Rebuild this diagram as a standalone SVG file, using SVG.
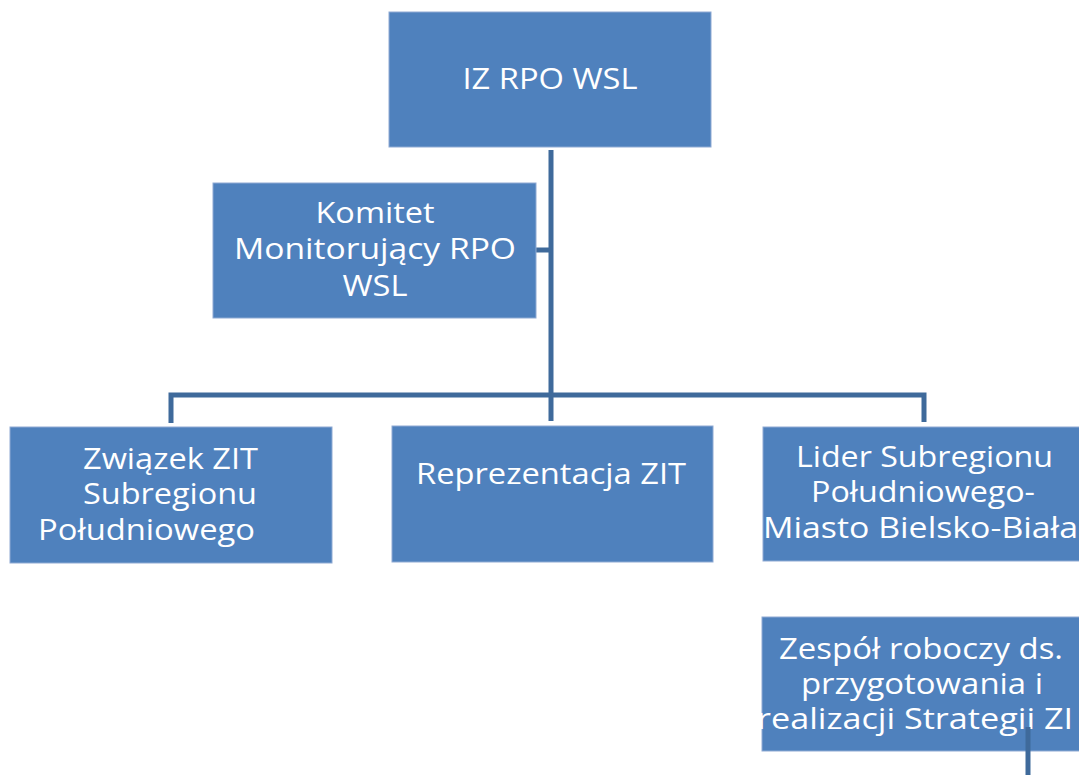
<svg xmlns="http://www.w3.org/2000/svg" width="1079" height="775" viewBox="0 0 1079 775">
<style>
.box{fill:#4F81BD;stroke:#8FAAD3;stroke-width:1}
.t{font-family:"Open Sans",Lato,"DejaVu Sans",sans-serif;font-size:29px;fill:#FFFFFF}
.c{text-anchor:middle}
.ln{fill:none;stroke:#3F6A9B;stroke-width:5;stroke-linecap:butt;stroke-linejoin:miter}
</style>
<rect x="0" y="0" width="1079" height="775" fill="#FFFFFF"/>
<g id="connectors">
<path class="ln" d="M551,150 V421"/>
<path class="ln" d="M536,250 H551"/>
<path class="ln" d="M171,423 V395 H924 V422"/>
</g>
<g id="iz">
<rect class="box" x="389" y="12" width="322" height="135"/>
<text class="t c" x="550" y="89" textLength="175" lengthAdjust="spacingAndGlyphs">IZ RPO WSL</text>
</g>
<g id="komitet">
<rect class="box" x="213" y="183" width="323" height="135"/>
<text class="t c" x="375" y="223" textLength="119" lengthAdjust="spacingAndGlyphs">Komitet</text>
<text class="t c" x="375" y="259" textLength="282" lengthAdjust="spacingAndGlyphs">Monitorujący RPO</text>
<text class="t c" x="375" y="296" textLength="65" lengthAdjust="spacingAndGlyphs">WSL</text>
</g>
<g id="zwiazek">
<rect class="box" x="10" y="427" width="322" height="136"/>
<text class="t" x="83" y="469" textLength="175" lengthAdjust="spacingAndGlyphs">Związek ZIT</text>
<text class="t" x="83" y="504" textLength="174" lengthAdjust="spacingAndGlyphs">Subregionu</text>
<text class="t" x="38" y="540" textLength="217" lengthAdjust="spacingAndGlyphs">Południowego</text>
</g>
<g id="reprezentacja">
<rect class="box" x="392" y="426" width="321" height="136"/>
<text class="t" x="416" y="484" textLength="270" lengthAdjust="spacingAndGlyphs">Reprezentacja ZIT</text>
</g>
<g id="lider">
<rect class="box" x="763" y="427" width="320" height="134"/>
<text class="t" x="796" y="467" textLength="257" lengthAdjust="spacingAndGlyphs">Lider Subregionu</text>
<text class="t" x="811" y="502" textLength="224" lengthAdjust="spacingAndGlyphs">Południowego-</text>
<text class="t" x="763" y="538" textLength="315" lengthAdjust="spacingAndGlyphs">Miasto Bielsko-Biała</text>
</g>
<g id="zespol">
<rect class="box" x="762" y="617" width="321" height="134"/>
<text class="t" x="779" y="659" textLength="284" lengthAdjust="spacingAndGlyphs">Zespół roboczy ds.</text>
<text class="t" x="801" y="694" textLength="242" lengthAdjust="spacingAndGlyphs">przygotowania i</text>
<text class="t" x="757" y="729" textLength="316" lengthAdjust="spacingAndGlyphs">realizacji Strategii ZI</text>
</g>
<g id="connector-overlay">
<path class="ln" d="M1028,727 V775"/>
</g>
</svg>
